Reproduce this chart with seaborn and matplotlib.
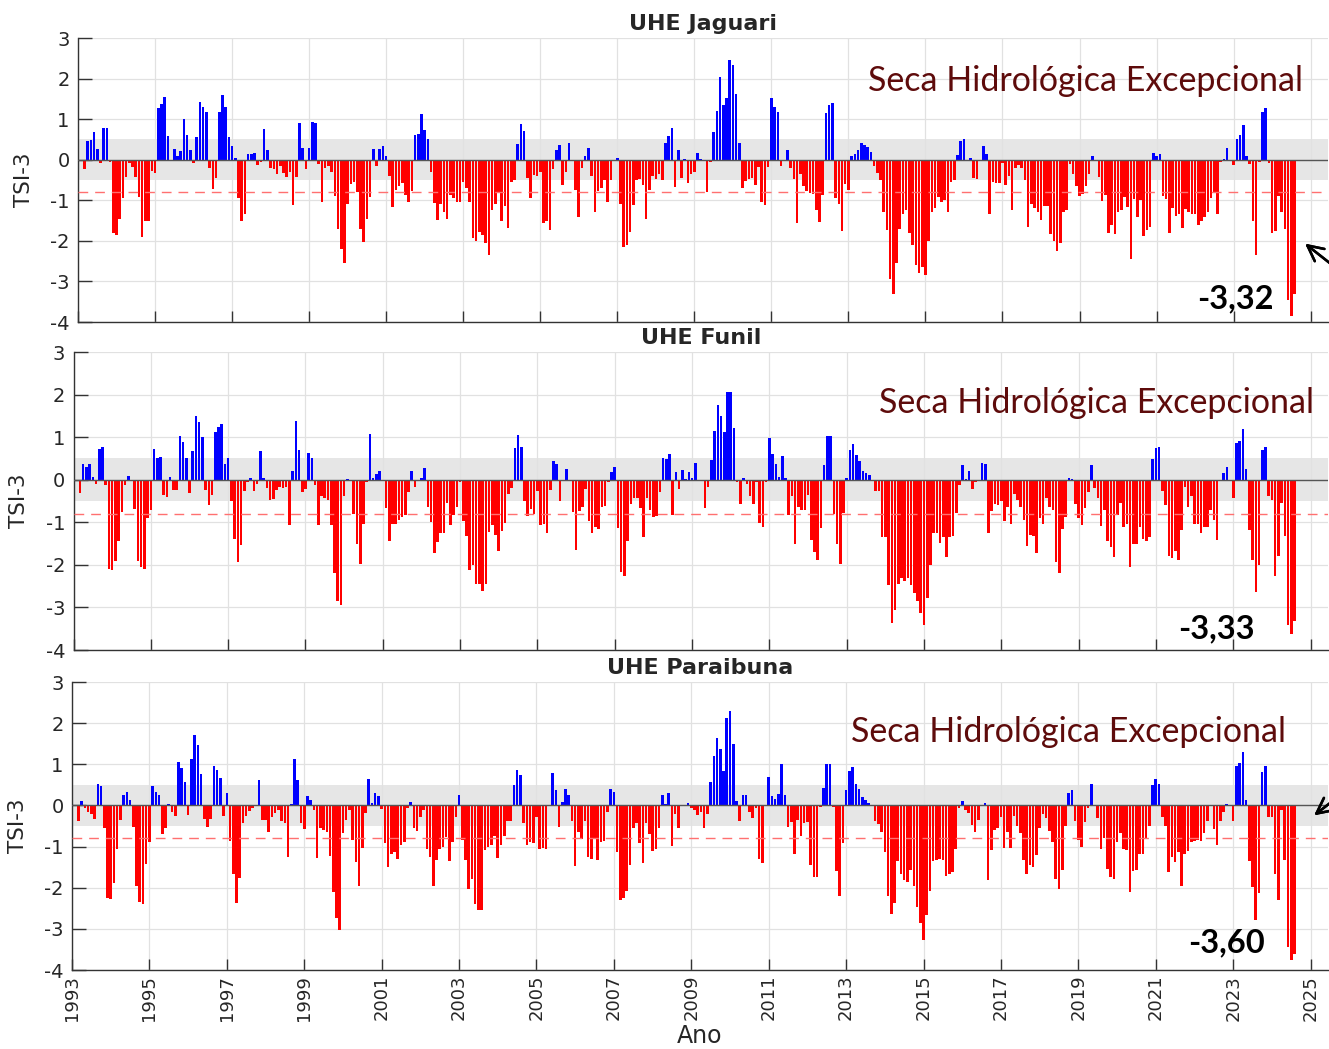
import numpy as np
import pandas as pd
import matplotlib
matplotlib.use("Agg")
import matplotlib.pyplot as plt
import seaborn as sns

# TSI-3 mensal, mar/1993 a ago/2024 (uma linha por ano)
jaguari = [
    -0.23, 0.45, 0.48, 0.68, 0.26, -0.07, 0.78, 0.77, -0.06, -1.8,
    -1.85, -1.45, -0.95, -0.43, -0.07, -0.18, -0.42, -0.93, -1.9, -1.5, -1.5, -0.28,
    -0.33, 1.27, 1.37, 1.55, 0.58, 0.0, 0.27, 0.1, 0.22, 1.0, 0.6, 0.25,
    -0.07, 0.55, 1.43, 1.3, 1.17, -0.2, -0.73, -0.45, 1.17, 1.6, 1.3, 0.57,
    0.35, 0.03, -0.95, -1.5, -1.33, 0.15, 0.15, 0.17, -0.13, -0.05, 0.75, 0.24,
    -0.2, -0.22, -0.35, -0.15, -0.32, -0.42, -0.3, -1.12, -0.42, 0.9, 0.3, -0.23,
    0.3, 0.93, 0.9, -0.1, -1.03, -0.2, -0.15, -0.3, -0.9, -1.7, -2.2, -2.55,
    -1.08, -0.6, -0.55, -0.8, -1.7, -2.03, -1.45, -0.92, 0.27, -0.15, 0.27, 0.35,
    0.1, -0.4, -1.17, -0.74, -0.66, -0.57, -0.86, -1.05, -0.77, 0.6, 0.63, 1.12,
    0.74, 0.5, -0.3, -1.07, -1.48, -1.1, -1.3, -1.47, -0.88, -0.95, -1.03, -1.03,
    -0.55, -0.7, -1.05, -1.92, -2.0, -1.77, -1.85, -2.05, -2.35, -1.25, -1.1, -0.8,
    -1.5, -1.15, -1.68, -0.55, -0.5, 0.38, 0.88, 0.7, -0.45, -0.95, -0.37, -0.4,
    -0.3, -1.57, -1.5, -1.73, -0.22, 0.25, 0.37, -0.62, -0.3, 0.42, -0.03, -0.75,
    -1.4, -0.2, 0.08, 0.3, -0.4, -1.3, -0.77, -0.7, -0.5, -1.03, -0.5, -0.03,
    0.03, -1.1, -2.15, -2.1, -1.77, -1.12, -0.5, -0.48, -0.63, -1.45, -0.75, -0.4,
    -0.47, -0.35, -0.5, 0.4, 0.58, 0.78, -0.67, 0.25, -0.45, 0.02, -0.57, -0.35,
    -0.3, 0.17, 0.02, 0.0, -0.8, -0.05, 0.68, 1.2, 2.03, 1.35, 1.52, 2.47,
    2.33, 1.63, 0.42, -0.7, -0.52, -0.47, -0.45, -0.63, -0.17, -1.05, -1.12, -0.18,
    1.52, 1.3, 1.18, -0.15, -0.02, 0.23, -0.2, -0.47, -1.55, -0.35, -0.65, -0.78,
    -0.82, -0.85, -1.25, -1.53, -0.88, 1.15, 1.35, 1.4, -0.95, -1.1, -1.75, -0.6,
    -0.75, 0.1, 0.15, 0.25, 0.4, 0.37, 0.32, 0.18, -0.15, -0.33, -0.5, -1.3,
    -1.73, -2.95, -3.3, -2.55, -1.7, -1.35, -1.25, -1.8, -2.1, -2.6, -2.8, -2.65,
    -2.85, -2.0, -1.3, -1.18, -0.93, -1.05, -1.0, -1.3, -0.55, -0.5, 0.12, 0.45,
    0.5, 0.0, 0.04, -0.45, -0.47, -0.02, 0.33, 0.15, -1.35, -0.55, -0.57, -0.57,
    -0.08, -0.62, -0.4, -1.25, -0.2, -0.13, -0.2, -0.5, -1.65, -1.1, -1.2, -1.3,
    -1.48, -1.15, -1.13, -1.82, -2.0, -2.24, -2.05, -1.3, -1.25, -0.1, -0.35, -0.66,
    -0.9, -0.85, -0.65, -0.35, 0.08, -0.03, -0.42, -1.02, -0.88, -1.8, -1.62, -1.83,
    -1.3, -1.23, -0.93, -1.17, -2.45, -0.97, -1.42, -1.0, -1.87, -1.73, -1.65, 0.17,
    0.1, 0.13, -0.9, -0.97, -1.8, -1.2, -1.38, -1.35, -1.68, -1.22, -1.28, -1.35,
    -1.33, -1.6, -1.5, -1.4, -1.3, -0.95, -0.8, -1.33, -0.05, 0.02, 0.3, -0.03,
    -0.13, 0.52, 0.62, 0.85, 0.1, -0.1, -1.52, -2.35, -0.05, 1.18, 1.27, -0.08,
    -1.8, -1.75, -0.9, -1.3, -1.7, -3.45, -3.85, -3.32,
]

funil = [
    -0.31, 0.37, 0.29, 0.38, 0.07, -0.09, 0.73, 0.76, -0.12, -2.1,
    -2.13, -1.92, -1.43, -0.77, -0.12, 0.08, 0.0, -0.68, -1.92, -2.05, -2.1, -0.9,
    -0.7, 0.73, 0.5, 0.54, -0.35, -0.4, 0.07, -0.25, -0.24, 1.03, 0.88, 0.5,
    -0.31, 0.68, 1.5, 1.35, 1.0, -0.24, -0.6, -0.37, 1.13, 1.25, 1.31, 0.38,
    0.52, -0.51, -1.39, -1.94, -1.54, -0.27, -0.05, 0.04, -0.26, -0.1, 0.67, 0.04,
    -0.2, -0.47, -0.45, -0.25, -0.16, -0.2, -0.16, -1.07, 0.21, 1.39, 0.7, -0.29,
    -0.21, 0.62, 0.5, -0.12, -1.07, -0.39, -0.43, -0.47, -1.07, -2.18, -2.86, -2.94,
    -0.39, 0.02, 0.0, -0.81, -1.51, -1.97, -1.03, -0.05, 1.07, 0.05, 0.14, 0.21,
    -0.03, -0.67, -1.43, -1.04, -1.04, -0.94, -0.88, -0.84, -0.3, 0.21, -0.18, 0.0,
    0.04, 0.27, -0.63, -1.0, -1.72, -1.47, -1.25, -1.25, -0.55, -1.06, -0.82, -0.63,
    -0.05, -0.98, -1.33, -2.11, -2.0, -2.45, -2.45, -2.62, -2.44, -1.23, -1.06, -1.29,
    -1.68, -1.2, -1.02, -0.33, -0.2, 0.74, 1.04, 0.78, -0.49, -0.86, -0.68, -0.81,
    -0.27, -1.07, -1.04, -1.24, -0.24, 0.44, 0.38, -0.51, -0.02, 0.26, -0.04, -0.76,
    -1.64, -0.74, -0.64, -0.21, -0.98, -1.24, -1.12, -1.16, -0.64, -0.61, -0.06, 0.17,
    0.29, -1.14, -2.17, -2.25, -1.43, -0.57, -0.42, -0.43, -0.67, -1.35, -0.42, -0.7,
    -0.88, -0.86, -0.3, 0.52, 0.49, 0.6, -0.82, 0.18, -0.21, 0.22, 0.02, 0.18,
    0.05, 0.39, 0.0, 0.0, -0.67, -0.16, 0.47, 1.14, 1.76, 1.49, 1.12, 2.05,
    2.05, 1.21, -0.06, -0.57, 0.04, -0.09, -0.39, -0.57, -0.06, -1.02, -1.11, -0.05,
    0.98, 0.6, 0.38, 0.07, 0.55, 0.05, -0.82, -0.39, -1.5, -0.63, -0.72, -0.7,
    -0.37, -1.41, -1.7, -1.88, -1.14, 0.34, 1.02, 1.02, -0.81, -1.51, -1.98, -0.78,
    0.04, 0.7, 0.84, 0.59, 0.45, 0.21, 0.16, 0.1, 0.0, -0.26, -0.26, -1.35,
    -1.35, -2.47, -3.37, -3.07, -2.45, -2.31, -2.39, -2.31, -2.47, -2.66, -2.86, -3.13,
    -3.41, -2.78, -2.01, -1.25, -1.25, -1.49, -1.35, -1.82, -1.35, -1.33, -0.78, -0.13,
    0.35, 0.02, 0.2, -0.21, -0.05, 0.0, 0.39, 0.38, -1.25, -0.74, -0.56, -0.6,
    -0.51, -0.96, -0.63, -1.03, -0.33, -0.47, -0.63, -0.94, -1.55, -1.29, -1.33, -1.72,
    -0.9, -1.03, -0.43, -0.64, -0.72, -1.94, -2.19, -1.16, -0.88, 0.05, 0.02, -0.57,
    -0.89, -1.06, -0.67, -0.29, 0.34, -0.2, -0.43, -1.08, -0.7, -1.45, -1.58, -1.82,
    -0.82, -0.55, -1.11, -1.03, -2.04, -1.51, -1.5, -1.1, -1.39, -1.43, -1.35, 0.48,
    0.74, 0.78, -0.26, -0.59, -1.8, -1.84, -1.67, -1.88, -1.17, -0.16, -0.63, -0.38,
    -1.03, -1.03, -1.25, -1.1, -1.12, -0.72, -0.94, -1.42, -0.02, 0.16, 0.29, 0.0,
    -0.42, 0.86, 0.9, 1.19, 0.26, -1.17, -1.88, -2.64, -2.0, 0.7, 0.78, -0.39,
    -0.47, -2.27, -1.8, -0.55, -1.32, -3.41, -3.63, -3.33,
]

paraibuna = [
    -0.39, 0.1, -0.07, -0.15, -0.21, -0.33, 0.53, 0.47, -0.56, -2.25,
    -2.27, -1.89, -1.07, -0.35, 0.26, 0.33, 0.12, -0.53, -1.97, -2.35, -2.4, -1.43,
    -0.9, 0.47, 0.32, 0.26, -0.7, -0.56, 0.04, -0.15, -0.25, 1.05, 0.92, 0.56,
    -0.23, 1.14, 1.71, 1.46, 0.77, -0.34, -0.52, -0.34, 0.97, 0.85, 0.67, -0.25,
    0.3, -0.86, -1.66, -2.37, -1.77, -0.43, -0.25, -0.13, -0.07, -0.02, 0.61, -0.35,
    -0.35, -0.64, -0.29, -0.19, -0.12, -0.39, -0.43, -1.25, 0.03, 1.14, 0.63, -0.43,
    -0.57, 0.22, 0.12, -0.1, -1.27, -0.56, -0.6, -0.64, -1.23, -2.11, -2.74, -3.03,
    -0.68, -0.35, -0.12, -0.83, -1.37, -1.96, -1.03, -0.19, 0.65, 0.07, 0.29, 0.24,
    -0.09, -0.92, -1.5, -1.17, -1.14, -1.31, -0.96, -0.9, -0.07, 0.08, -0.56, -0.61,
    -0.29, -0.12, -1.05, -1.25, -1.96, -1.32, -1.05, -1.02, -0.76, -1.35, -0.9, -0.27,
    0.26, -0.84, -1.32, -2.03, -1.78, -2.4, -2.55, -2.55, -1.09, -1.01, -0.97, -0.75,
    -1.27, -0.97, -0.75, -0.38, -0.38, 0.49, 0.86, 0.73, -0.43, -0.96, -0.9, -0.92,
    -0.29, -1.05, -1.03, -1.05, 0.0, 0.78, 0.38, -0.52, 0.08, 0.4, 0.25, -0.37,
    -1.48, -0.64, -0.82, -0.38, -1.25, -1.29, -0.82, -1.33, -0.88, -0.87, -0.15, 0.4,
    0.33, -1.13, -2.3, -2.25, -2.07, -1.44, -0.54, -0.43, -0.92, -1.4, -0.43, -0.7,
    -1.1, -1.05, -0.56, 0.26, 0.04, 0.3, -0.98, -0.2, -0.56, 0.0, 0.0, 0.06,
    -0.07, -0.11, -0.23, -0.17, -0.54, -0.2, 0.57, 1.2, 1.63, 1.38, 0.83, 2.12,
    2.3, 1.5, 0.11, -0.37, 0.26, 0.26, -0.17, -0.31, -0.07, -1.29, -1.41, 0.0,
    0.7, 0.22, 0.16, 0.28, 1.01, 0.26, -0.53, -0.4, -1.19, -0.35, -0.74, -0.43,
    -0.41, -1.46, -1.73, -1.73, -0.05, 0.43, 1.01, 1.01, -0.03, -1.6, -2.21, -0.92,
    0.38, 0.83, 0.93, 0.51, 0.41, 0.2, 0.14, 0.06, 0.0, -0.39, -0.46, -0.64,
    -1.13, -2.21, -2.64, -2.37, -1.36, -1.66, -1.82, -1.85, -1.56, -1.95, -2.46, -2.85,
    -3.28, -2.67, -2.09, -1.35, -1.32, -1.29, -1.32, -1.72, -1.66, -1.62, -1.05, -0.07,
    0.11, -0.1, -0.19, -0.47, -0.64, -0.35, 0.0, 0.06, -1.81, -1.09, -0.6, -0.56,
    -0.27, -1.03, -0.64, -1.03, -0.25, -0.5, -0.68, -1.33, -1.66, -1.45, -1.5, -1.2,
    -0.55, -0.2, -0.31, -0.61, -0.88, -1.78, -2.03, -1.58, -0.5, 0.29, 0.38, -0.39,
    -0.84, -1.01, -0.41, -0.07, 0.53, 0.0, -0.31, -1.07, -0.8, -1.54, -1.74, -1.78,
    -0.9, -0.68, -1.07, -1.09, -2.11, -1.59, -1.56, -1.19, -1.19, -0.8, -0.5, 0.49,
    0.65, 0.51, -0.27, -0.5, -1.62, -1.25, -1.37, -1.14, -1.95, -1.17, -1.11, -0.9,
    -0.86, -0.84, -0.86, -0.68, -0.37, 0.0, -0.58, -0.96, -0.39, -0.17, 0.04, 0.0,
    -0.39, 0.97, 1.02, 1.3, 0.14, -1.36, -1.99, -2.79, -2.13, 0.82, 0.96, -0.27,
    -0.29, -1.66, -2.3, -0.1, -1.32, -3.44, -3.76, -3.6,
]

usinas = ["UHE Jaguari", "UHE Funil", "UHE Paraibuna"]
series = [jaguari, funil, paraibuna]
rotulos_min = ["-3,32", "-3,33", "-3,60"]
anos_ticks = list(range(1993, 2026, 2))

sns.set_theme(style="white")
plt.rcParams["font.family"] = ["DejaVu Sans"]
plt.rcParams["axes.unicode_minus"] = False

fig = plt.figure(figsize=(13.29, 10.49), dpi=100)
W, H = 1329, 1049

# caixas dos eixos em pixels (esq, topo, dir, base)
caixas = [(78, 38, 1328, 322), (73.5, 352, 1328, 650), (72, 682, 1328, 970)]
seca_pos = [(868, 91), (879, 413), (851, 742)]
min_pos = [(1197, 308), (1178, 638), (1188, 952)]

for i, (nome, vals) in enumerate(zip(usinas, series)):
    l, t, r, b = caixas[i]
    ax = fig.add_axes([l / W, 1 - b / H, (r - l) / W, (b - t) / H])
    n = len(vals)
    df = pd.DataFrame({
        "ano": 1993 + (np.arange(n) + 2) / 12.0,
        "tsi": vals,
    })
    df["sinal"] = np.where(df["tsi"] >= 0, "pos", "neg")

    ax.axhspan(-0.5, 0.5, color="#e6e6e6", zorder=0.5, lw=0)
    sns.barplot(data=df, x="ano", y="tsi", hue="sinal", hue_order=["pos", "neg"],
                palette={"pos": "#0000ff", "neg": "#ff0000"}, native_scale=True,
                dodge=False, width=0.8, errorbar=None, saturation=1,
                legend=False, ax=ax, zorder=2, linewidth=0)
    ax.axhline(0, color="#555555", lw=1.0, zorder=3)
    ax.axhline(-0.8, color="#ff7070", lw=1.0, ls=(0, (7, 5)), zorder=3)

    ax.set_xlim(1993, 2025.45)
    ax.set_ylim(-4, 3)
    ax.set_yticks(range(-4, 4))
    ax.set_xticks(anos_ticks)
    ax.grid(True, color="#e1e1e1", lw=0.9)
    ax.set_axisbelow(True)
    for s in ["top", "right"]:
        ax.spines[s].set_visible(False)
    for s in ["left", "bottom"]:
        ax.spines[s].set_color("#333333")
        ax.spines[s].set_linewidth(1.0)
    ax.tick_params(axis="y", direction="in", length=10, width=1, color="#333333",
                   labelsize=14, pad=6, left=True)
    ax.tick_params(axis="x", direction="in", length=8, width=1, color="#333333",
                   labelsize=13, bottom=True)
    ax.set_ylabel("TSI-3", fontsize=15.5, labelpad=12)
    ax.set_title(nome, fontsize=16, fontweight="bold", pad=6)
    if i < 2:
        ax.set_xticklabels([])
        ax.set_xlabel("")
    else:
        ax.set_xticklabels([str(a) for a in anos_ticks], rotation=90)
        ax.set_xlabel("Ano", fontsize=17, labelpad=2)

    sx, sy = seca_pos[i]
    fig.text(sx / W, 1 - sy / H, "Seca Hidrológica Excepcional", fontsize=24.5,
             color="#5e0b0b", family=["Lato", "DejaVu Sans"], ha="left", va="baseline")
    mx, my = min_pos[i]
    fig.text(mx / W, 1 - my / H, rotulos_min[i], fontsize=23.5, fontweight="bold",
             color="black", family=["Lato", "DejaVu Sans"], ha="left", va="baseline")

# setas (cortadas na borda direita)
fig.add_artist(plt.annotate("", xy=(1303, H - 242), xycoords="figure pixels",
                            xytext=(1350, H - 279), textcoords="figure pixels",
                            arrowprops=dict(arrowstyle="->", lw=1.8, color="black",
                                            mutation_scale=28),
                            annotation_clip=False))
fig.add_artist(plt.annotate("", xy=(1312, H - 817), xycoords="figure pixels",
                            xytext=(1352, H - 786), textcoords="figure pixels",
                            arrowprops=dict(arrowstyle="->", lw=1.8, color="black",
                                            mutation_scale=28),
                            annotation_clip=False))

fig.savefig("out.png", dpi=100)
